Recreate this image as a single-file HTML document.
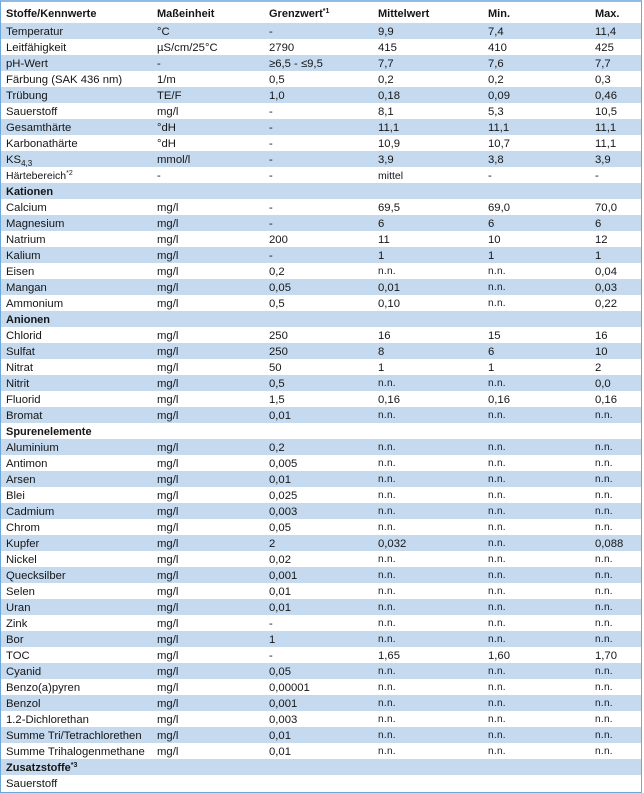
<!DOCTYPE html>
<html>
<head>
<meta charset="utf-8">
<style>
html,body{margin:0;padding:0;}
body{width:644px;height:793px;position:relative;background:#fff;overflow:hidden;
font-family:"Liberation Sans",sans-serif;font-size:11.3px;color:#161616;}
.frame{position:absolute;left:0;top:0;width:642px;height:793px;box-sizing:border-box;
border:1px solid #6ea7d8;border-top:2px solid #8dbbe3;}
.r{position:absolute;left:1px;width:640px;height:16px;}
.b{background:#c5daef;}
.r span{position:absolute;top:0;line-height:16px;padding-top:1px;white-space:nowrap;}
.c1{left:5px}.c2{left:156px}.c3{left:268px}.c4{left:377px}.c5{left:487px}.c6{left:594px}
.h{font-weight:bold;font-size:11px;}
.s{font-size:10.5px;}
.n{font-size:10px;letter-spacing:0.3px;}
sub{font-size:8px;vertical-align:-3px;line-height:0;}
sup{font-size:7px;vertical-align:4px;line-height:0;}
.hdr{position:absolute;left:1px;top:5px;width:640px;height:16px;font-weight:bold;font-size:11px;}
.hdr span{position:absolute;top:0;line-height:16px;padding-top:1px;white-space:nowrap;}
</style>
</head>
<body>
<div class="frame"></div>
<div class="hdr">
<span class="c1">Stoffe/Kennwerte</span><span class="c2">Maßeinheit</span><span class="c3">Grenzwert<sup>*1</sup></span><span class="c4">Mittelwert</span><span class="c5">Min.</span><span class="c6">Max.</span>
</div>

<div class="r b" style="top:23px"><span class="c1">Temperatur</span><span class="c2">°C</span><span class="c3">-</span><span class="c4">9,9</span><span class="c5">7,4</span><span class="c6">11,4</span></div>
<div class="r" style="top:39px"><span class="c1">Leitfähigkeit</span><span class="c2">µS/cm/25°C</span><span class="c3">2790</span><span class="c4">415</span><span class="c5">410</span><span class="c6">425</span></div>
<div class="r b" style="top:55px"><span class="c1">pH-Wert</span><span class="c2">-</span><span class="c3">≥6,5 - ≤9,5</span><span class="c4">7,7</span><span class="c5">7,6</span><span class="c6">7,7</span></div>
<div class="r" style="top:71px"><span class="c1">Färbung (SAK 436 nm)</span><span class="c2">1/m</span><span class="c3">0,5</span><span class="c4">0,2</span><span class="c5">0,2</span><span class="c6">0,3</span></div>
<div class="r b" style="top:87px"><span class="c1">Trübung</span><span class="c2">TE/F</span><span class="c3">1,0</span><span class="c4">0,18</span><span class="c5">0,09</span><span class="c6">0,46</span></div>
<div class="r" style="top:103px"><span class="c1">Sauerstoff</span><span class="c2">mg/l</span><span class="c3">-</span><span class="c4">8,1</span><span class="c5">5,3</span><span class="c6">10,5</span></div>
<div class="r b" style="top:119px"><span class="c1">Gesamthärte</span><span class="c2">°dH</span><span class="c3">-</span><span class="c4">11,1</span><span class="c5">11,1</span><span class="c6">11,1</span></div>
<div class="r" style="top:135px"><span class="c1">Karbonathärte</span><span class="c2">°dH</span><span class="c3">-</span><span class="c4">10,9</span><span class="c5">10,7</span><span class="c6">11,1</span></div>
<div class="r b" style="top:151px"><span class="c1">KS<sub>4,3</sub></span><span class="c2">mmol/l</span><span class="c3">-</span><span class="c4">3,9</span><span class="c5">3,8</span><span class="c6">3,9</span></div>
<div class="r" style="top:167px"><span class="c1 s">Härtebereich<sup>*2</sup></span><span class="c2">-</span><span class="c3">-</span><span class="c4 s">mittel</span><span class="c5">-</span><span class="c6">-</span></div>
<div class="r b" style="top:183px"><span class="c1 h">Kationen</span></div>
<div class="r" style="top:199px"><span class="c1">Calcium</span><span class="c2">mg/l</span><span class="c3">-</span><span class="c4">69,5</span><span class="c5">69,0</span><span class="c6">70,0</span></div>
<div class="r b" style="top:215px"><span class="c1">Magnesium</span><span class="c2">mg/l</span><span class="c3">-</span><span class="c4">6</span><span class="c5">6</span><span class="c6">6</span></div>
<div class="r" style="top:231px"><span class="c1">Natrium</span><span class="c2">mg/l</span><span class="c3">200</span><span class="c4">11</span><span class="c5">10</span><span class="c6">12</span></div>
<div class="r b" style="top:247px"><span class="c1">Kalium</span><span class="c2">mg/l</span><span class="c3">-</span><span class="c4">1</span><span class="c5">1</span><span class="c6">1</span></div>
<div class="r" style="top:263px"><span class="c1">Eisen</span><span class="c2">mg/l</span><span class="c3">0,2</span><span class="c4 n">n.n.</span><span class="c5 n">n.n.</span><span class="c6">0,04</span></div>
<div class="r b" style="top:279px"><span class="c1">Mangan</span><span class="c2">mg/l</span><span class="c3">0,05</span><span class="c4">0,01</span><span class="c5 n">n.n.</span><span class="c6">0,03</span></div>
<div class="r" style="top:295px"><span class="c1">Ammonium</span><span class="c2">mg/l</span><span class="c3">0,5</span><span class="c4">0,10</span><span class="c5 n">n.n.</span><span class="c6">0,22</span></div>
<div class="r b" style="top:311px"><span class="c1 h">Anionen</span></div>
<div class="r" style="top:327px"><span class="c1">Chlorid</span><span class="c2">mg/l</span><span class="c3">250</span><span class="c4">16</span><span class="c5">15</span><span class="c6">16</span></div>
<div class="r b" style="top:343px"><span class="c1">Sulfat</span><span class="c2">mg/l</span><span class="c3">250</span><span class="c4">8</span><span class="c5">6</span><span class="c6">10</span></div>
<div class="r" style="top:359px"><span class="c1">Nitrat</span><span class="c2">mg/l</span><span class="c3">50</span><span class="c4">1</span><span class="c5">1</span><span class="c6">2</span></div>
<div class="r b" style="top:375px"><span class="c1">Nitrit</span><span class="c2">mg/l</span><span class="c3">0,5</span><span class="c4 n">n.n.</span><span class="c5 n">n.n.</span><span class="c6">0,0</span></div>
<div class="r" style="top:391px"><span class="c1">Fluorid</span><span class="c2">mg/l</span><span class="c3">1,5</span><span class="c4">0,16</span><span class="c5">0,16</span><span class="c6">0,16</span></div>
<div class="r b" style="top:407px"><span class="c1">Bromat</span><span class="c2">mg/l</span><span class="c3">0,01</span><span class="c4 n">n.n.</span><span class="c5 n">n.n.</span><span class="c6 n">n.n.</span></div>
<div class="r" style="top:423px"><span class="c1 h">Spurenelemente</span></div>
<div class="r b" style="top:439px"><span class="c1">Aluminium</span><span class="c2">mg/l</span><span class="c3">0,2</span><span class="c4 n">n.n.</span><span class="c5 n">n.n.</span><span class="c6 n">n.n.</span></div>
<div class="r" style="top:455px"><span class="c1">Antimon</span><span class="c2">mg/l</span><span class="c3">0,005</span><span class="c4 n">n.n.</span><span class="c5 n">n.n.</span><span class="c6 n">n.n.</span></div>
<div class="r b" style="top:471px"><span class="c1">Arsen</span><span class="c2">mg/l</span><span class="c3">0,01</span><span class="c4 n">n.n.</span><span class="c5 n">n.n.</span><span class="c6 n">n.n.</span></div>
<div class="r" style="top:487px"><span class="c1">Blei</span><span class="c2">mg/l</span><span class="c3">0,025</span><span class="c4 n">n.n.</span><span class="c5 n">n.n.</span><span class="c6 n">n.n.</span></div>
<div class="r b" style="top:503px"><span class="c1">Cadmium</span><span class="c2">mg/l</span><span class="c3">0,003</span><span class="c4 n">n.n.</span><span class="c5 n">n.n.</span><span class="c6 n">n.n.</span></div>
<div class="r" style="top:519px"><span class="c1">Chrom</span><span class="c2">mg/l</span><span class="c3">0,05</span><span class="c4 n">n.n.</span><span class="c5 n">n.n.</span><span class="c6 n">n.n.</span></div>
<div class="r b" style="top:535px"><span class="c1">Kupfer</span><span class="c2">mg/l</span><span class="c3">2</span><span class="c4">0,032</span><span class="c5 n">n.n.</span><span class="c6">0,088</span></div>
<div class="r" style="top:551px"><span class="c1">Nickel</span><span class="c2">mg/l</span><span class="c3">0,02</span><span class="c4 n">n.n.</span><span class="c5 n">n.n.</span><span class="c6 n">n.n.</span></div>
<div class="r b" style="top:567px"><span class="c1">Quecksilber</span><span class="c2">mg/l</span><span class="c3">0,001</span><span class="c4 n">n.n.</span><span class="c5 n">n.n.</span><span class="c6 n">n.n.</span></div>
<div class="r" style="top:583px"><span class="c1">Selen</span><span class="c2">mg/l</span><span class="c3">0,01</span><span class="c4 n">n.n.</span><span class="c5 n">n.n.</span><span class="c6 n">n.n.</span></div>
<div class="r b" style="top:599px"><span class="c1">Uran</span><span class="c2">mg/l</span><span class="c3">0,01</span><span class="c4 n">n.n.</span><span class="c5 n">n.n.</span><span class="c6 n">n.n.</span></div>
<div class="r" style="top:615px"><span class="c1">Zink</span><span class="c2">mg/l</span><span class="c3">-</span><span class="c4 n">n.n.</span><span class="c5 n">n.n.</span><span class="c6 n">n.n.</span></div>
<div class="r b" style="top:631px"><span class="c1">Bor</span><span class="c2">mg/l</span><span class="c3">1</span><span class="c4 n">n.n.</span><span class="c5 n">n.n.</span><span class="c6 n">n.n.</span></div>
<div class="r" style="top:647px"><span class="c1">TOC</span><span class="c2">mg/l</span><span class="c3">-</span><span class="c4">1,65</span><span class="c5">1,60</span><span class="c6">1,70</span></div>
<div class="r b" style="top:663px"><span class="c1">Cyanid</span><span class="c2">mg/l</span><span class="c3">0,05</span><span class="c4 n">n.n.</span><span class="c5 n">n.n.</span><span class="c6 n">n.n.</span></div>
<div class="r" style="top:679px"><span class="c1">Benzo(a)pyren</span><span class="c2">mg/l</span><span class="c3">0,00001</span><span class="c4 n">n.n.</span><span class="c5 n">n.n.</span><span class="c6 n">n.n.</span></div>
<div class="r b" style="top:695px"><span class="c1">Benzol</span><span class="c2">mg/l</span><span class="c3">0,001</span><span class="c4 n">n.n.</span><span class="c5 n">n.n.</span><span class="c6 n">n.n.</span></div>
<div class="r" style="top:711px"><span class="c1">1.2-Dichlorethan</span><span class="c2">mg/l</span><span class="c3">0,003</span><span class="c4 n">n.n.</span><span class="c5 n">n.n.</span><span class="c6 n">n.n.</span></div>
<div class="r b" style="top:727px"><span class="c1">Summe Tri/Tetrachlorethen</span><span class="c2">mg/l</span><span class="c3">0,01</span><span class="c4 n">n.n.</span><span class="c5 n">n.n.</span><span class="c6 n">n.n.</span></div>
<div class="r" style="top:743px"><span class="c1">Summe Trihalogenmethane</span><span class="c2">mg/l</span><span class="c3">0,01</span><span class="c4 n">n.n.</span><span class="c5 n">n.n.</span><span class="c6 n">n.n.</span></div>
<div class="r b" style="top:759px"><span class="c1 h">Zusatzstoffe<sup>*3</sup></span></div>
<div class="r" style="top:775px"><span class="c1">Sauerstoff</span></div>
</body>
</html>
